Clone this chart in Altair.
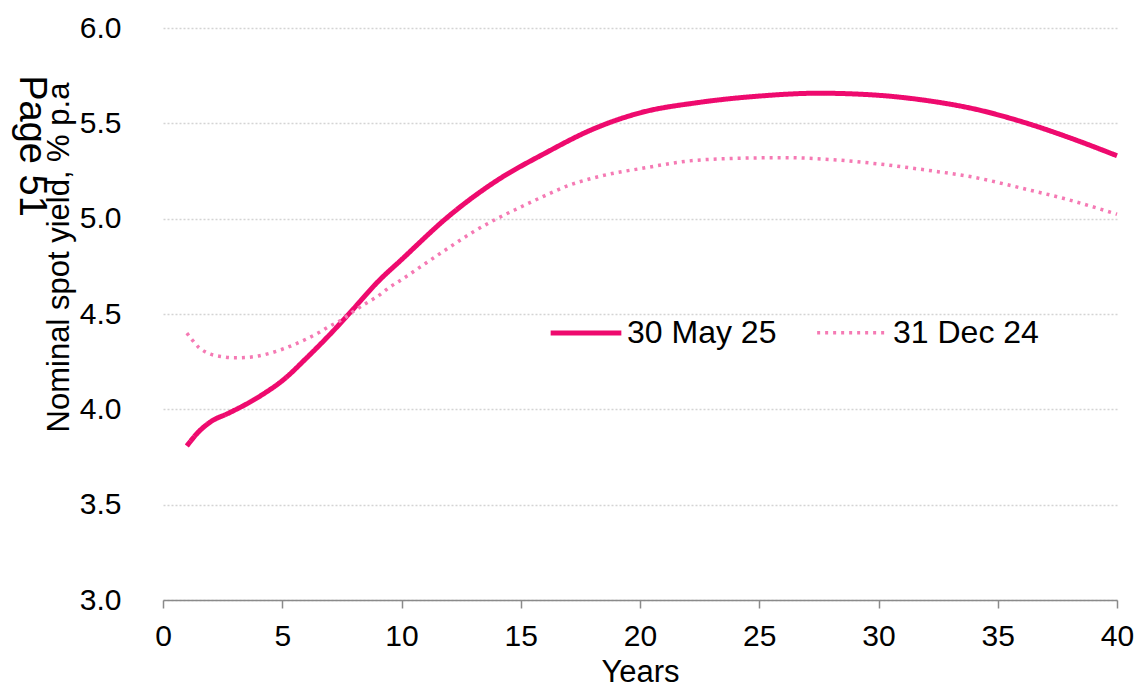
import altair as alt
import pandas as pd

# 30 May 25 curve
may_years = [1, 1.5, 2, 2.75, 3.5, 4.25, 5, 6, 7, 8, 9, 10, 12, 14, 16, 18, 20,
             22.5, 25, 27.5, 30, 32, 34, 36, 38, 40]
may_yield = [3.808, 3.883, 3.935, 3.98, 4.028, 4.084, 4.15, 4.267, 4.393, 4.529,
             4.668, 4.785, 5.015, 5.2, 5.342, 5.468, 5.555, 5.61, 5.643, 5.658,
             5.647, 5.62, 5.576, 5.509, 5.425, 5.33]

# 31 Dec 24 curve
dec_years = [1, 1.25, 1.5, 1.75, 2, 2.5, 3, 3.5, 4, 4.5, 5, 5.5, 6, 6.5, 7, 7.5,
             8, 8.5, 9, 9.5, 10, 11, 12, 13, 14, 15, 16, 17, 18, 19, 20, 22, 24,
             26, 28, 30, 32, 34, 36, 38, 40]
dec_yield = [4.40, 4.36, 4.325, 4.303, 4.289, 4.276, 4.27, 4.272, 4.28, 4.295,
             4.315, 4.34, 4.368, 4.4, 4.437, 4.47, 4.515, 4.555, 4.593, 4.64,
             4.68, 4.765, 4.849, 4.93, 5.0, 5.061, 5.12, 5.174, 5.212, 5.241,
             5.262, 5.302, 5.316, 5.32, 5.31, 5.287, 5.255, 5.217, 5.16, 5.098,
             5.023]

series_names = ["30 May 25", "31 Dec 24"]
x_ticks = [0, 5, 10, 15, 20, 25, 30, 35, 40]
y_ticks = [3.0, 3.5, 4.0, 4.5, 5.0, 5.5, 6.0]

df = pd.concat([
    pd.DataFrame({"Years": may_years, "Yield": may_yield, "Series": series_names[0]}),
    pd.DataFrame({"Years": dec_years, "Yield": dec_yield, "Series": series_names[1]}),
])

FONT = "Liberation Sans"

lines = alt.Chart(df).mark_line(interpolate="monotone", strokeCap="butt").encode(
    x=alt.X("Years:Q",
            scale=alt.Scale(domain=[0, 40], nice=False),
            axis=alt.Axis(values=x_ticks, title="Years", grid=False,
                          domainColor="#8a8a8a", domainWidth=1.5,
                          tickColor="#8a8a8a", tickWidth=1.5, tickSize=8,
                          labelPadding=13, labelFontSize=30, labelColor="#000",
                          labelFlush=False, labelOverlap=False,
                          labelFont=FONT, titleFont=FONT, titleFontSize=31,
                          titleFontWeight="normal", titleColor="#000",
                          titlePadding=6)),
    y=alt.Y("Yield:Q",
            scale=alt.Scale(domain=[3.0, 6.0], nice=False, zero=False),
            axis=alt.Axis(values=y_ticks, format=".1f",
                          title="Nominal spot yield, % p.a",
                          domain=False, ticks=False, labelPadding=42,
                          labelFontSize=30, labelColor="#000", labelFont=FONT,
                          grid=True, gridColor="#d4d4d4", gridDash=[2, 2],
                          gridWidth=1.3,
                          titleFont=FONT, titleFontSize=31, titleFontWeight="normal",
                          titleColor="#000", titleAngle=-90, titleAlign="center",
                          titleBaseline="middle", titleX=-104, titleY=229)),
    color=alt.Color("Series:N",
                    scale=alt.Scale(domain=series_names, range=["#ee0a6e", "#f57ab4"]),
                    legend=alt.Legend(title=None, orient="none", direction="horizontal",
                                      legendX=385, legendY=267, symbolType="stroke",
                                      symbolSize=5000, labelFontSize=32,
                                      labelFont=FONT, labelColor="#000",
                                      labelOffset=3, columnPadding=33,
                                      symbolOpacity=1)),
    strokeDash=alt.StrokeDash("Series:N",
                              scale=alt.Scale(domain=series_names,
                                              range=[[1, 0], [3, 5]])),
    strokeWidth=alt.StrokeWidth("Series:N",
                                scale=alt.Scale(domain=series_names, range=[5, 3.5])),
)

page_label = alt.Chart(pd.DataFrame({"label": ["Page 51"]})).mark_text(
    angle=90, font=FONT, fontSize=38, color="#000", align="center", baseline="middle"
).encode(x=alt.value(-132), y=alt.value(118), text="label:N")

chart = alt.layer(lines, page_label).properties(
    width=954, height=572,
    padding={"left": 155, "top": 20, "right": 17, "bottom": 90},
    autosize=alt.AutoSizeParams(type="none"),
    background="white",
).configure_view(stroke=None)

chart.save("out.html", embed_options={"renderer": "svg", "actions": False})
